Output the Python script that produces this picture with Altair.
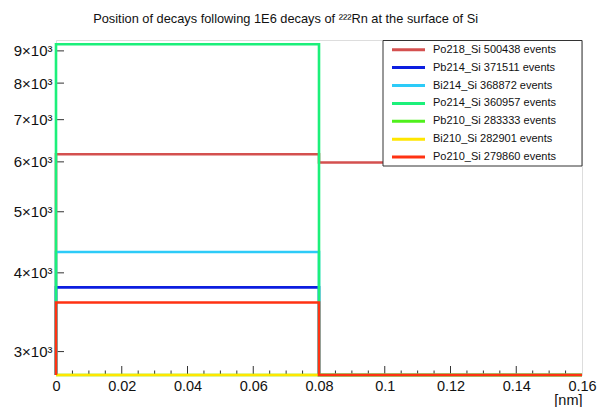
import altair as alt
import pandas as pd

# ---------------- data ----------------
series = ["Po218_Si", "Pb214_Si", "Bi214_Si", "Po214_Si", "Pb210_Si", "Bi210_Si", "Po210_Si"]
events = [500438, 371511, 368872, 360957, 283333, 282901, 279860]
colors = ["#d4504f", "#0c1ee0", "#2ccbf8", "#1cf07a", "#4ff01c", "#ffe600", "#ff3212"]
bin_edges = [0.0, 0.08, 0.16]
# counts in bin 1 and bin 2 (values below the axis minimum sit on the bottom edge)
bin1_counts = [6170, 3793, 4316, 9220, 1500, 1500, 3589]
bin2_counts = [5985, 1500, 1500, 1500, 1500, 1500, 1500]
baseline = 1500

y_min, y_max = 2754, 9365
y_tick_values = [3000, 4000, 5000, 6000, 7000, 8000, 9000]
x_label_values = [0.0, 0.02, 0.04, 0.06, 0.08, 0.1, 0.12, 0.14, 0.16]
x_major_ticks = [0.02, 0.04, 0.06, 0.08, 0.1, 0.12, 0.14]
x_minor_ticks = [0.005, 0.01, 0.015, 0.025, 0.03, 0.035, 0.045, 0.05, 0.055,
                 0.065, 0.07, 0.075, 0.085, 0.09, 0.095, 0.105, 0.11, 0.115,
                 0.125, 0.13, 0.135, 0.145, 0.15, 0.155]

title_text = "Position of decays following 1E6 decays of \u00b2\u00b2\u00b2Rn at the surface of Si"
FONT = "Liberation Sans"
W, H = 526, 335

xscale = alt.Scale(domain=[0, 0.16], nice=False, zero=False)
yscale = alt.Scale(type="log", domain=[y_min, y_max], nice=False, clamp=True)
xaxis = alt.Axis(values=x_label_values, format="~g", ticks=False, domain=False, grid=False,
                 labelFont=FONT, labelFontSize=14.5, labelColor="#111", labelPadding=4,
                 labelFlush=False, title="[nm]", titleFont=FONT, titleFontSize=14.5,
                 titleFontWeight="normal", titleColor="#111", titleAnchor="end",
                 titleAlign="right", titleBaseline="middle", titleY=25)
yaxis = alt.Axis(values=y_tick_values, labelExpr="format(datum.value/1000,'d') + '\u00d710\u00b3'",
                 ticks=False, domain=False, grid=False, labelFont=FONT, labelFontSize=15,
                 labelColor="#111", labelPadding=4, title=None, labelFlush=False)


def X(field):
    return alt.X(field, type="quantitative", scale=xscale, axis=xaxis)


layers = []
for i, name in enumerate(series):
    vals = [bin1_counts[i], bin2_counts[i]]
    xs = [bin_edges[0]]
    ys = [baseline]
    for b in range(len(vals)):
        xs += [bin_edges[b], bin_edges[b + 1]]
        ys += [vals[b], vals[b]]
    df = pd.DataFrame({"x": xs, "y": ys, "k": list(range(len(xs)))})
    layers.append(
        alt.Chart(df).mark_line(color=colors[i], strokeWidth=2.6, strokeJoin="miter",
                                strokeCap="butt")
        .encode(x=X("x"),
                y=alt.Y("y:Q", scale=yscale, axis=yaxis if i == 0 else None),
                order=alt.Order("k:Q"))
    )

# inward ticks (ROOT style)
maj = alt.Chart(pd.DataFrame({"t": x_major_ticks})).mark_rule(color="#333", strokeWidth=1).encode(
    x=X("t"), y=alt.value(H), y2=alt.value(H - 9))
mino = alt.Chart(pd.DataFrame({"t": x_minor_ticks})).mark_rule(color="#333", strokeWidth=1).encode(
    x=X("t"), y=alt.value(H), y2=alt.value(H - 4.5))
yt = alt.Chart(pd.DataFrame({"v": y_tick_values})).mark_rule(color="#333", strokeWidth=1).encode(
    y=alt.Y("v:Q", scale=yscale, axis=None), x=alt.value(0), x2=alt.value(8))
layers = [maj, mino, yt] + layers

# legend
leg_df = pd.DataFrame({
    "series": series,
    "row": list(range(len(series))),
    "label": [f"{s} {e} events" for s, e in zip(series, events)],
})
box = alt.Chart(pd.DataFrame({"a": [0]})).mark_rect(fill="white", stroke="#333", strokeWidth=1).encode(
    x=alt.value(327), x2=alt.value(526), y=alt.value(0.5), y2=alt.value(126))
rowy = alt.Y("row:Q", scale=alt.Scale(domain=[0, 6], range=[9.7, 117.1]), axis=None)
cscale = alt.Color("series:N", scale=alt.Scale(domain=series, range=colors), legend=None)
leg_lines = alt.Chart(leg_df).mark_rule(strokeWidth=3).encode(
    x=alt.value(336), x2=alt.value(369), y=rowy, color=cscale)
leg_text = alt.Chart(leg_df).mark_text(align="left", baseline="middle", font=FONT, fontSize=11,
                                       color="#111").encode(
    x=alt.value(377), y=rowy, text="label:N")
layers += [box, leg_lines, leg_text]

chart = alt.layer(*layers).resolve_scale(y="independent").properties(
    width=W, height=H,
    title=alt.TitleParams(title_text, anchor="start", dx=80, font=FONT, fontSize=12.8,
                          fontWeight="normal", color="#111", baseline="alphabetic", offset=3),
    autosize=alt.AutoSizeParams(type="none"),
    padding={"left": 56, "top": 40, "right": 15, "bottom": 32},
).configure_view(stroke="#333", strokeWidth=1).configure(background="white")

chart.save("out.html", embed_options={"renderer": "svg", "actions": False})
